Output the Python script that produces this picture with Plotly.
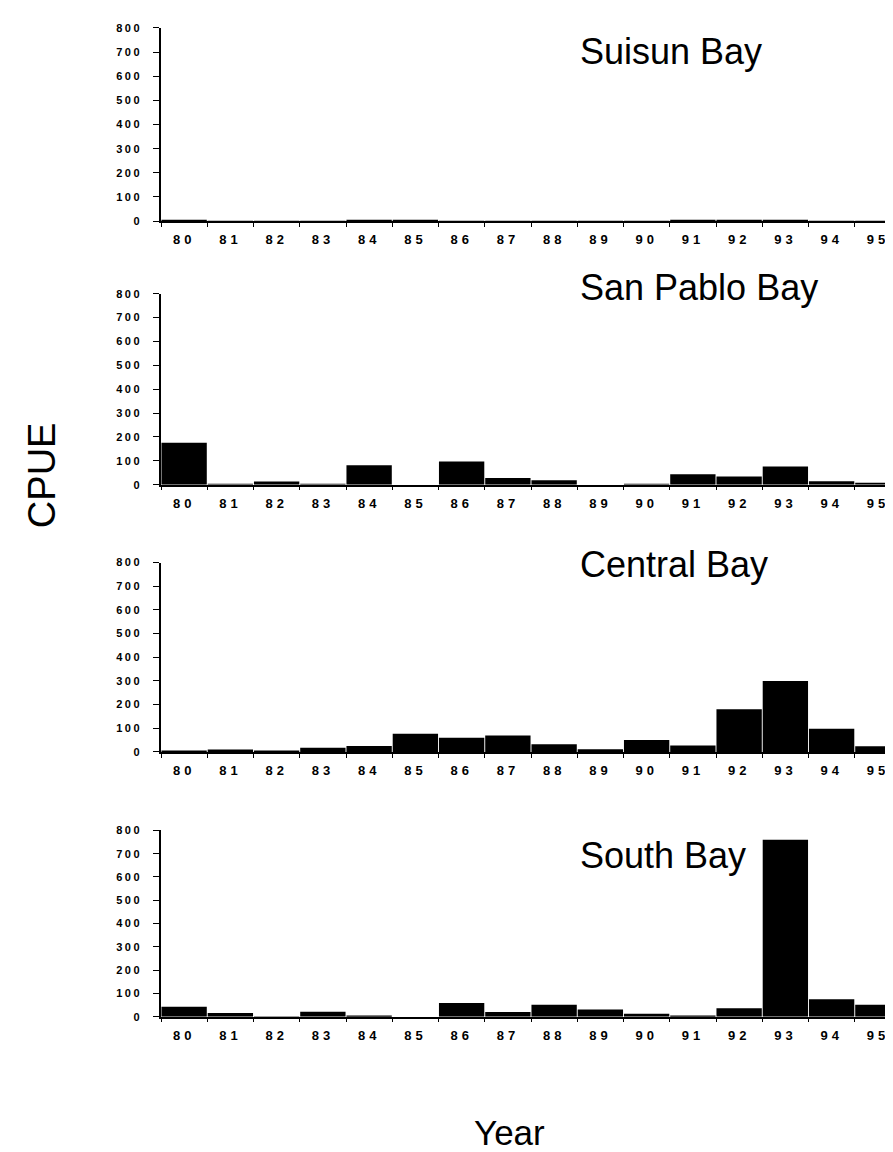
import plotly.graph_objects as go

years = ["80", "81", "82", "83", "84", "85", "86", "87",
         "88", "89", "90", "91", "92", "93", "94", "95"]

suisun_bay = [5, 1, 0.5, 1, 2, 3, 0.5, 0.5, 0.5, 0.5, 0.5, 3, 3, 2, 1, 1]
san_pablo_bay = [176, 3, 14, 3, 82, 0, 97, 28, 19, 0, 4, 44, 35, 76, 15, 7]
central_bay = [6, 10, 2, 18, 25, 77, 60, 69, 32, 11, 50, 27, 180, 300, 98, 24]
south_bay = [43, 16, 1, 21, 5, 0, 59, 20, 51, 31, 13, 3, 37, 760, 75, 51]

panel_names = ["Suisun Bay", "San Pablo Bay", "Central Bay", "South Bay"]
panel_values = [suisun_bay, san_pablo_bay, central_bay, south_bay]
y_ticks = [0, 100, 200, 300, 400, 500, 600, 700, 800]

H = 1152.0
# pixel extents (top, bottom) of each plot area
panel_px = [(14, 209.3), (282.7, 475.7), (554.3, 745.7), (825, 1013.3)]
title_px = [37, 275, 555.7, 849]

fig = go.Figure()
font_family = "Liberation Sans, Arial, Helvetica, sans-serif"

for i, (name, vals) in enumerate(zip(panel_names, panel_values)):
    n = i + 1
    xa = "x" if n == 1 else f"x{n}"
    ya = "y" if n == 1 else f"y{n}"
    fig.add_trace(go.Bar(
        x=years, y=vals, xaxis=xa, yaxis=ya,
        marker=dict(color="black", line=dict(width=0)),
        showlegend=False,
    ))
    top, bot = panel_px[i]
    dom = [1 - bot / H, 1 - top / H]
    xkey = "xaxis" if n == 1 else f"xaxis{n}"
    ykey = "yaxis" if n == 1 else f"yaxis{n}"
    fig.layout[xkey] = dict(
        domain=[0, 1], anchor=ya, type="category",
        range=[-0.5, 15.5],
        showline=True, linecolor="black", linewidth=1.5,
        ticks="outside", tickson="boundaries", ticklen=4, tickwidth=1,
        tickcolor="black", ticklabelstandoff=6,
        showgrid=False, zeroline=False,
        tickfont=dict(family=font_family, size=13, color="black", weight="bold"),
        fixedrange=True,
    )
    fig.layout[ykey] = dict(
        domain=dom, anchor=xa, range=[0, 800],
        tickvals=y_ticks, ticktext=[str(v) for v in y_ticks],
        showline=True, linecolor="black", linewidth=1.5,
        ticks="outside", ticklen=6, tickwidth=1, tickcolor="black",
        ticklabelstandoff=9,
        showgrid=False, zeroline=False,
        tickfont=dict(family=font_family, size=11, color="black", weight="bold"),
        fixedrange=True,
    )
    fig.add_annotation(
        text=name, xref="paper", yref="paper",
        x=(570 - 153) / 740, y=1 - (title_px[i] + 1) / H,
        xanchor="left", yanchor="middle", showarrow=False,
        font=dict(family=font_family, size=36, color="black"),
    )

fig.add_annotation(
    text="CPUE", xref="paper", yref="paper",
    x=(33.5 - 153) / 740, y=1 - 466.5 / H, textangle=-90,
    xanchor="center", yanchor="middle", showarrow=False,
    font=dict(family=font_family, size=38, color="black"),
)
fig.add_annotation(
    text="Year", xref="paper", yref="paper",
    x=(501.5 - 153) / 740, y=0.0,
    xanchor="center", yanchor="bottom", showarrow=False,
    font=dict(family=font_family, size=35, color="black"),
)

fig.update_layout(
    width=893, height=1152,
    margin=dict(l=153, r=0, t=0, b=0),
    paper_bgcolor="white", plot_bgcolor="white",
    bargap=0.02,
)

spacing_js = (
    "var gd=document.getElementById('{plot_id}');"
    "gd.querySelectorAll('.xaxislayer-above text').forEach(function(t){"
    "t.style.letterSpacing='4px';});"
    "gd.querySelectorAll('.yaxislayer-above text').forEach(function(t){"
    "t.style.letterSpacing='2.5px';});"
)

fig.write_html("out.html", post_script=spacing_js)
